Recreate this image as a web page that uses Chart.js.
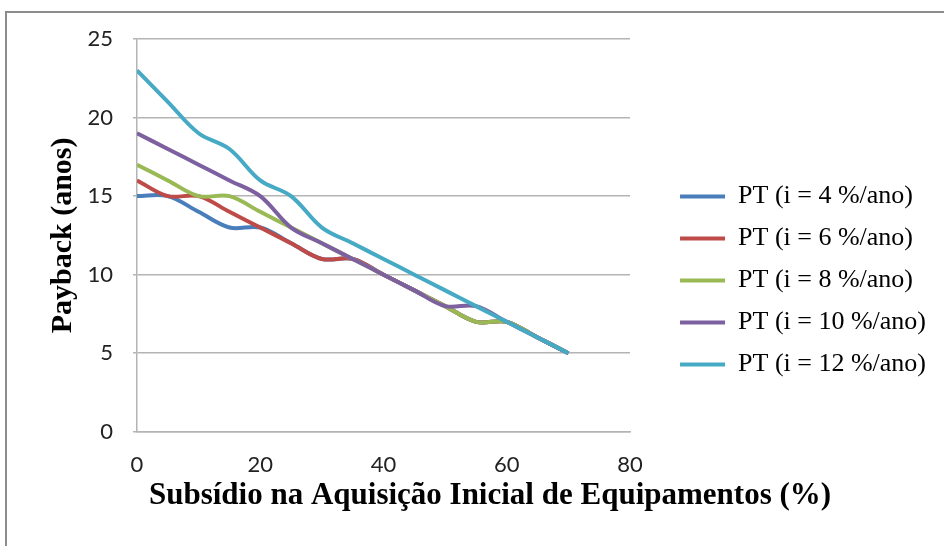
<!DOCTYPE html>
<html>
<head>
<meta charset="utf-8">
<script src="https://cdn.jsdelivr.net/npm/chart.js@4.4.0/dist/chart.umd.min.js"></script>
<style>
  html, body { margin: 0; padding: 0; background: #fff; }
  #wrap { position: relative; width: 944px; height: 546px; overflow: hidden; }
  #frame { position: absolute; left: 5px; top: 11px; width: 980px; height: 580px; border: 2px solid #8c8c8c; box-sizing: border-box; }
  #chart { position: absolute; left: 0; top: 0; }
</style>
</head>
<body>
<div id="wrap">
  <div id="frame"></div>
  <canvas id="chart" width="944" height="546"></canvas>
</div>
<script>
(function() {
    "use strict";

    // subsidio (%) e payback (anos)
    const subsidio = [0, 5, 10, 15, 20, 25, 30, 35, 40, 45, 50, 55, 60, 65, 70];
    const pt4  = [15, 15, 14, 13, 13, 12, 11, 11, 10, 9, 8, 7, 7, 6, 5];
    const pt6  = [16, 15, 15, 14, 13, 12, 11, 11, 10, 9, 8, 7, 7, 6, 5];
    const pt8  = [17, 16, 15, 15, 14, 13, 12, 11, 10, 9, 8, 7, 7, 6, 5];
    const pt10 = [19, 18, 17, 16, 15, 13, 12, 11, 10, 9, 8, 8, 7, 6, 5];
    const pt12 = [23, 21, 19, 18, 16, 15, 13, 12, 11, 10, 9, 8, 7, 6, 5];

    const seriesNames = ['PT (i = 4 %/ano)', 'PT (i = 6 %/ano)', 'PT (i = 8 %/ano)', 'PT (i = 10 %/ano)', 'PT (i = 12 %/ano)'];
    const seriesData = [pt4, pt6, pt8, pt10, pt12];
    const colors = ['#4a7ebb', '#be4b48', '#98b954', '#7d60a0', '#46aac5'];

    const xTicks = { min: 0, max: 80, step: 20 };
    const yTicks = { min: 0, max: 25, step: 5 };

    const serif = "'Liberation Serif', 'Times New Roman', serif";
    const sans = "Lato, 'Open Sans', sans-serif";
    const gridGray = '#b4b4b4';

    const datasets = seriesData.map((vals, i) => ({
        label: seriesNames[i],
        data: vals.map((v, j) => ({ x: subsidio[j], y: v })),
        borderColor: colors[i],
        backgroundColor: colors[i],
        borderWidth: 4,
        pointRadius: 0,
        pointHoverRadius: 0,
        tension: 0.35,
        fill: false,
        order: seriesData.length - i,
        xAxisID: 'x',
        yAxisID: 'y'
    }));

    new Chart(document.getElementById('chart'), {
        type: 'line',
        data: { datasets: datasets },
        options: {
            responsive: false,
            animation: false,
            events: [],
            layout: { padding: { left: 44, right: 8, top: 39, bottom: 24 } },
            plugins: {
                legend: {
                    position: 'right',
                    maxWidth: 400,
                    labels: {
                        usePointStyle: true,
                        pointStyle: 'line',
                        pointStyleWidth: 45,
                        padding: 16,
                        color: '#000',
                        font: { family: serif, size: 26 },
                        sort: (a, b) => a.datasetIndex - b.datasetIndex
                    }
                },
                title: {
                    display: true,
                    position: 'bottom',
                    text: 'Subsídio na Aquisição Inicial de Equipamentos (%)',
                    color: '#000',
                    font: { family: serif, size: 31, weight: 'bold' },
                    padding: { top: 0, bottom: 7 }
                },
                tooltip: { enabled: false }
            },
            scales: {
                x: {
                    type: 'linear',
                    min: xTicks.min,
                    max: xTicks.max,
                    grid: { display: false, drawTicks: false },
                    border: { color: gridGray, width: 1.5 },
                    ticks: { stepSize: xTicks.step, padding: 20, color: '#222', font: { family: sans, size: 22 } },
                    afterFit: s => { s.height = 46; }
                },
                y: {
                    type: 'linear',
                    min: yTicks.min,
                    max: yTicks.max,
                    grid: { color: gridGray, lineWidth: 1.5, tickLength: 4 },
                    border: { color: gridGray, width: 1.5 },
                    ticks: { stepSize: yTicks.step, padding: 20, color: '#222', font: { family: sans, size: 22 } },
                    title: {
                        display: true,
                        text: 'Payback (anos)',
                        color: '#000',
                        font: { family: serif, size: 30, weight: 'bold' },
                        padding: { top: 1, bottom: 0 }
                    },
                    afterFit: s => { s.width = 93; }
                },
                gap: {
                    type: 'linear',
                    position: 'right',
                    grid: { display: false, drawTicks: false },
                    border: { display: false },
                    ticks: { display: false },
                    afterFit: s => { s.width = 34; }
                }
            }
        }
    });
})();
</script>
</body>
</html>
